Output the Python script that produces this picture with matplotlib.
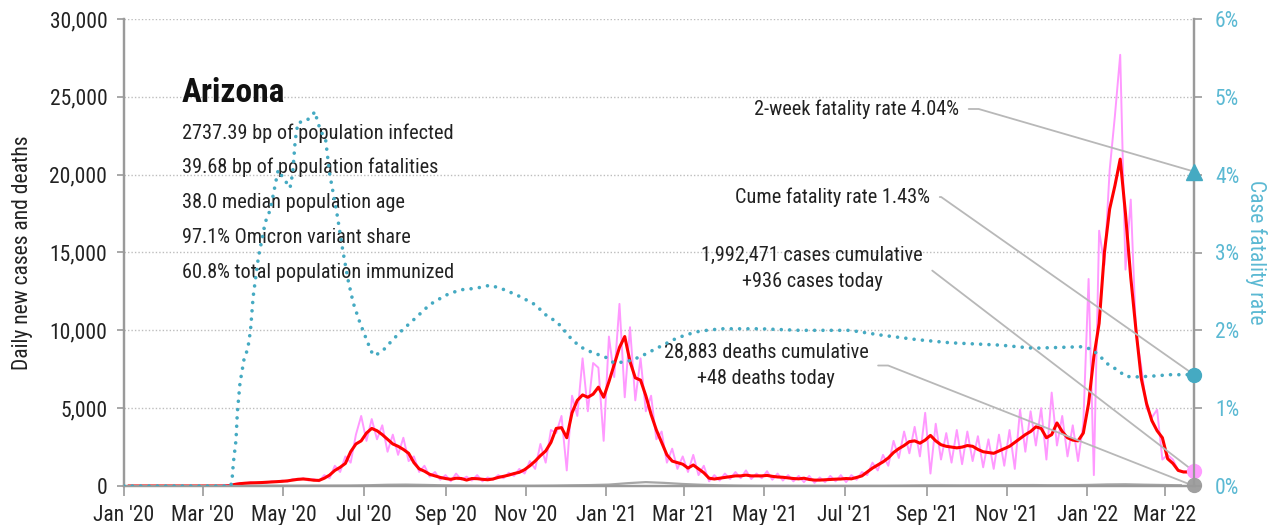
import matplotlib
matplotlib.use('Agg')
import matplotlib.pyplot as plt
import matplotlib.dates as mdates
from matplotlib import font_manager
from matplotlib.ticker import FuncFormatter, MultipleLocator
import pandas as pd

# ---- values ----
state = 'Arizona'
info_lines = [
    '2737.39 bp of population infected',
    '39.68 bp of population fatalities',
    '38.0 median population age',
    '97.1% Omicron variant share',
    '60.8% total population immunized',
]

# daily new cases, sampled every 4 days from 2020-03-01
cases_start = '2020-03-01'
daily_cases = [
    0, 0, 2, 10, 40, 60, 130, 200, 170, 250,
    180, 260, 200, 300, 250, 350, 280, 450, 380, 500,
    350, 450, 300, 700, 500, 1300, 900, 1900, 1500, 3300,
    4500, 2900, 4300, 3000, 3900, 2200, 3300, 2000, 3100, 1600,
    1900, 900, 1300, 600, 900, 400, 700, 300, 800, 400,
    600, 350, 700, 300, 550, 400, 700, 500, 850, 650,
    1100, 800, 1600, 1100, 2700, 1500, 3600, 3400, 4500, 1000,
    5800, 4500, 8200, 4800, 7900, 7600, 2900, 9600, 7000, 11700,
    5700, 10200, 5500, 8200, 4800, 5800, 3000, 3500, 1500, 2400,
    1100, 1900, 900, 2000, 700, 1300, 300, 700, 350, 800,
    450, 900, 500, 1000, 450, 800, 500, 950, 400, 800,
    350, 700, 300, 650, 250, 650, 200, 550, 250, 650,
    300, 700, 250, 700, 400, 900, 700, 1500, 1000, 2000,
    1300, 2900, 1800, 3500, 2100, 3800, 1900, 4700, 800, 4000,
    1700, 3400, 1500, 3600, 1400, 3500, 1600, 3200, 1200, 3000,
    1100, 3300, 1300, 3600, 1100, 4900, 2200, 4800, 2600, 5000,
    1700, 6000, 2600, 4500, 1900, 3900, 1600, 4000, 13300, 700,
    16400, 14200, 20300, 23800, 27700, 13900, 18400, 9800, 7650, 5000,
    4400, 4900, 1700, 2000, 1700, 1000, 936, 936, 936,
]

# 7-day average of new cases, same 4-day spacing from 2020-01-05
avg_start = '2020-01-05'
avg_cases = [
    0, 0, 0, 0, 0, 0, 0, 0, 0, 0, 0, 0, 0, 0,
    0, 0, 0, 0, 0, 20, 100, 150, 180, 200,
    210, 220, 240, 260, 280, 300, 330, 380, 430, 450,
    420, 370, 360, 500, 700, 1000, 1200, 1450, 2200, 2700,
    2900, 3400, 3700, 3550, 3300, 3000, 2700, 2550, 2350, 2100,
    1500, 1100, 950, 750, 650, 550, 480, 430, 500, 480,
    380, 480, 470, 430, 400, 450, 550, 620, 700, 800,
    880, 1050, 1300, 1600, 1950, 2250, 2800, 3700, 3750, 3100,
    4700, 5500, 5850, 5700, 5900, 6350, 5700, 6700, 7800, 8900,
    9600, 8000, 6950, 6800, 5800, 4600, 3600, 2800, 2000, 1600,
    1500, 1400, 1150, 1350, 1100, 850, 500, 450, 500, 550,
    600, 650, 650, 700, 650, 650, 650, 680, 620, 580,
    560, 520, 480, 460, 500, 420, 380, 380, 400, 420,
    440, 450, 480, 460, 550, 650, 900, 1150, 1350, 1550,
    1800, 2150, 2400, 2600, 2850, 2900, 2750, 2950, 3250, 2900,
    2650, 2550, 2500, 2450, 2500, 2600, 2550, 2350, 2200, 2150,
    2100, 2250, 2400, 2550, 2800, 3050, 3300, 3500, 3800, 3700,
    3100, 3300, 4050, 3500, 3100, 2950, 2900, 3400, 5300, 8300,
    10450, 15000, 17800, 19300, 21000, 17500, 13400, 10000, 6900, 5300,
    4200, 3550, 3100, 1750, 1450, 1000, 900, 900, 900,
]

# daily deaths, every 14 days from 2020-03-01
deaths_start = '2020-03-01'
daily_deaths = [
    0, 1, 8, 15, 20, 20, 25, 25, 30, 50,
    80, 90, 70, 45, 30, 20, 12, 12, 15, 25,
    45, 60, 90, 180, 250, 200, 130, 80, 45, 25,
    15, 12, 10, 10, 8, 10, 12, 15, 25, 40,
    45, 40, 45, 50, 55, 60, 50, 55, 70, 100,
    110, 85, 65, 48,
]

# case fatality rate (%), day offset from 2020-01-01
cfr_days = [0, 81, 82, 83, 85, 86, 88, 91, 94, 96, 98, 102, 105, 107, 111,
            115, 117, 120, 122, 126, 128, 130, 132, 136, 139, 143, 145, 147,
            150, 153, 156, 162, 166, 170, 174, 179, 185, 189, 193, 197, 204,
            211, 222, 232, 244, 255, 267, 278, 289, 301, 312, 320, 329, 339,
            346, 356, 365, 371, 379, 386, 394, 402, 409, 417, 426, 437, 453,
            483, 513, 551, 574, 602, 627, 665, 690, 728, 735, 741, 747, 754,
            760, 766, 779, 794, 812]
cfr_pct = [0.0, 0.0, 0.08, 0.30, 0.59, 0.94, 1.32, 1.62, 1.77, 2.0, 2.43,
           2.94, 3.19, 3.38, 3.55, 3.89, 4.06, 3.98, 3.93, 3.83, 4.02, 4.45,
           4.67, 4.68, 4.70, 4.77, 4.81, 4.67, 4.54, 4.45, 4.02, 3.46, 3.03,
           2.65, 2.35, 2.10, 1.84, 1.68, 1.70, 1.75, 1.88, 2.0, 2.17, 2.33,
           2.45, 2.52, 2.54, 2.58, 2.52, 2.43, 2.33, 2.20, 2.10, 1.90, 1.79,
           1.71, 1.66, 1.59, 1.59, 1.62, 1.68, 1.75, 1.81, 1.88, 1.94, 1.99,
           2.02, 2.02, 2.0, 2.0, 1.94, 1.88, 1.84, 1.81, 1.77, 1.79, 1.75,
           1.66, 1.56, 1.49, 1.41, 1.40, 1.41, 1.43, 1.43]

last_date = '2022-03-23'
two_week_cfr = 4.04
cume_cfr = 1.43
cases_today = 936
deaths_today = 48
cases_total = '1,992,471'
deaths_total = '28,883'

# ---- styling ----
available = {f.name for f in font_manager.fontManager.ttflist}
base_font = 'DejaVu Sans'
for fam in ['Liberation Sans Narrow', 'Roboto Condensed', 'Open Sans Condensed', 'Liberation Sans']:
    if fam in available:
        base_font = fam
        break
plt.rcParams['font.family'] = [base_font, 'DejaVu Sans']

TEAL = '#45aac2'
TEAL_TXT = '#5bb9d3'
PINK = '#ff99ff'
RED = '#ff0000'
GRAY = '#a6a6a6'
AXIS = '#9a9a9a'
LEADER = '#b8b8b8'
FS = 15.5     # tick labels
FS_TXT = 14.6  # info block and annotations

cases_dates = pd.date_range(cases_start, periods=len(daily_cases), freq='4D')
avg_dates = pd.date_range(avg_start, periods=len(avg_cases), freq='4D')
deaths_dates = pd.date_range(deaths_start, periods=len(daily_deaths), freq='14D')
cfr_dates = pd.Timestamp('2020-01-01') + pd.to_timedelta(cfr_days, unit='D')
end = pd.Timestamp(last_date)

fig = plt.figure(figsize=(12.68, 5.25), dpi=100)
ax = fig.add_axes([124 / 1268, 39 / 525, 1070 / 1268, 467 / 525])
ax2 = ax.twinx()

ax.plot(deaths_dates, daily_deaths, color=GRAY, lw=1.6, zorder=2)
ax.plot(cases_dates, daily_cases, color=PINK, lw=1.4, zorder=3)
ax.plot(avg_dates, avg_cases, color=RED, lw=2.2, zorder=4)
ax2.plot(cfr_dates, cfr_pct, color=TEAL, lw=2.6, linestyle=(0, (0.01, 2.3)),
         dash_capstyle='round', zorder=3)

# end markers
ax.plot([end], [cases_today], 'o', color='#ff9cff', ms=10, clip_on=False, zorder=6)
ax.plot([end], [deaths_today], 'o', color='#a0a0a0', ms=10, clip_on=False, zorder=6)
ax2.plot([end], [two_week_cfr], '^', color=TEAL, ms=11, clip_on=False, zorder=6)
ax2.plot([end], [cume_cfr], 'o', color=TEAL, ms=10, clip_on=False, zorder=6)

ax.set_xlim(pd.Timestamp('2020-01-01'), end)
ax.set_ylim(0, 30000)
ax2.set_ylim(0, 6)

ax.yaxis.set_major_locator(MultipleLocator(5000))
ax.yaxis.set_major_formatter(FuncFormatter(lambda v, p: f'{int(v):,}'))
ax2.yaxis.set_major_locator(MultipleLocator(1))
ax2.yaxis.set_major_formatter(FuncFormatter(lambda v, p: f'{int(v)}%'))
ax.xaxis.set_major_locator(mdates.MonthLocator(bymonth=[1, 3, 5, 7, 9, 11]))
ax.xaxis.set_major_formatter(mdates.DateFormatter("%b '%y"))

ax.grid(axis='y', linestyle=(0, (1, 1.5)), color='#bdbdbd', lw=1)
ax.set_axisbelow(True)

for a in (ax, ax2):
    a.spines['top'].set_visible(False)
    for s in ('left', 'right', 'bottom'):
        a.spines[s].set_color(AXIS)
        a.spines[s].set_linewidth(1.6)

ax.tick_params(axis='y', length=5, width=1.2, color=AXIS, pad=7, labelsize=FS, labelcolor='#222222')
ax.tick_params(axis='x', length=7, width=1.2, color=AXIS, pad=7, labelsize=FS, labelcolor='#222222')
ax2.tick_params(axis='y', length=6, width=1.2, color=AXIS, pad=9, labelsize=FS, labelcolor=TEAL_TXT)

ax.set_ylabel('Daily new cases and deaths', fontsize=FS, color='#222222', labelpad=12)
ax2.set_ylabel('Case fatality rate', fontsize=FS, color=TEAL_TXT, rotation=270, labelpad=20)

# state block
ax.text(0.054, 0.842, state, transform=ax.transAxes, fontsize=24, fontweight='bold',
        va='center', ha='left', color='#111111')
for k, line in enumerate(info_lines):
    ax.text(0.054, 0.756 - k * 0.0745, line, transform=ax.transAxes, fontsize=FS_TXT,
            va='center', ha='left', color='#222222')

# annotations with leader lines
def leader(axis, text, xy, xytext, ha, angle_b):
    axis.annotate(text, xy=xy, xycoords='data', xytext=xytext, textcoords='axes fraction',
                  ha=ha, va='center', fontsize=FS_TXT, color='#222222', linespacing=1.5,
                  arrowprops=dict(arrowstyle='-', color=LEADER, lw=1.3, relpos=(1, 0.5),
                                  shrinkA=5, shrinkB=0,
                                  connectionstyle=f'angle,angleA=0,angleB={angle_b},rad=0'),
                  zorder=5)

leader(ax2, f'2-week fatality rate {two_week_cfr:.2f}%', (end, two_week_cfr), (0.7804, 0.8073), 'right', 163.8)
leader(ax2, f'Cume fatality rate {cume_cfr:.2f}%', (end, cume_cfr), (0.7533, 0.6188), 'right', 144.9)
leader(ax, f'{cases_total} cases cumulative\n+{cases_today} cases today', (end, cases_today),
       (0.643, 0.4657), 'center', 142.5)
leader(ax, f'{deaths_total} deaths cumulative\n+{deaths_today} deaths today', (end, 0),
       (0.600, 0.258), 'center', 158.5)

fig.savefig('out.png', dpi=100)
